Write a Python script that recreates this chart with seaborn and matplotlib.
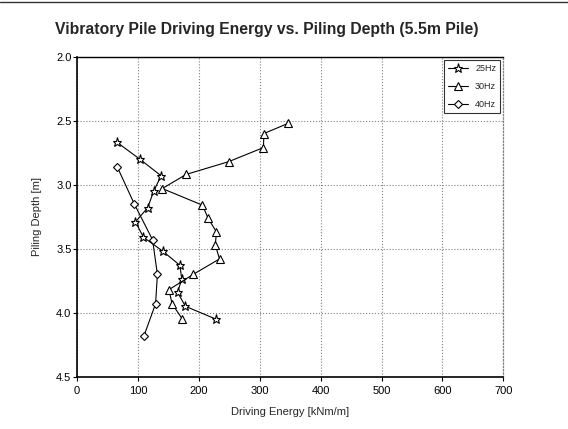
import pandas as pd
import seaborn as sns
import matplotlib.pyplot as plt
from matplotlib.lines import Line2D

# 25Hz
energy_25 = [66, 103, 138, 126, 116, 96, 109, 141, 169, 172, 165, 178, 228]
depth_25 = [2.67, 2.80, 2.93, 3.05, 3.18, 3.29, 3.41, 3.52, 3.63, 3.74, 3.84, 3.95, 4.05]
# 30Hz
energy_30 = [347, 307, 306, 249, 179, 140, 206, 215, 229, 227, 234, 191, 151, 156, 173]
depth_30 = [2.52, 2.60, 2.71, 2.82, 2.92, 3.03, 3.16, 3.26, 3.37, 3.47, 3.58, 3.70, 3.82, 3.93, 4.05]
# 40Hz
energy_40 = [66, 94, 124, 132, 129, 110]
depth_40 = [2.86, 3.15, 3.43, 3.70, 3.93, 4.18]

series = ["25Hz", "30Hz", "40Hz"]
markers = {"25Hz": "*", "30Hz": "^", "40Hz": "D"}
msizes = {"25Hz": 6.5, "30Hz": 5.5, "40Hz": 4.2}

df = pd.concat([
    pd.DataFrame({"Energy": energy_25, "Depth": depth_25, "Freq": "25Hz"}),
    pd.DataFrame({"Energy": energy_30, "Depth": depth_30, "Freq": "30Hz"}),
    pd.DataFrame({"Energy": energy_40, "Depth": depth_40, "Freq": "40Hz"}),
])

sns.set_style("white")
plt.rcParams["font.family"] = ["Liberation Sans", "DejaVu Sans"]

fig = plt.figure(figsize=(5.68, 4.29), dpi=100)
ax = fig.add_axes([0.1356, 0.1219, 0.7505, 0.7459])

for f in series:
    sub = df[df["Freq"] == f]
    sns.lineplot(data=sub, x="Energy", y="Depth", sort=False, estimator=None,
                 color="black", lw=0.8, marker=markers[f], markersize=msizes[f],
                 markerfacecolor="white", markeredgecolor="black",
                 markeredgewidth=0.8, ax=ax, label=f)

ax.set_xlim(0, 700)
ax.set_ylim(4.5, 2.0)
ax.set_xticks(range(0, 701, 100))
ax.set_yticks([2.0, 2.5, 3.0, 3.5, 4.0, 4.5])
ax.set_yticklabels([f"{v:.1f}" for v in [2.0, 2.5, 3.0, 3.5, 4.0, 4.5]])
ax.grid(True, color="gray", linestyle=":", lw=0.8)
ax.tick_params(axis="both", labelsize=8, length=3, width=0.8, direction="out",
               left=True, bottom=True, colors="black")
ax.tick_params(axis="y", pad=1)
for s in ["left", "bottom"]:
    ax.spines[s].set_color("black")
    ax.spines[s].set_linewidth(1.2)
ax.spines["top"].set_color("black")
ax.spines["top"].set_linewidth(1.0)
ax.spines["right"].set_color("gray")
ax.spines["right"].set_linestyle(":")
ax.spines["right"].set_linewidth(0.9)

ax.set_xlabel("Driving Energy [kNm/m]", fontsize=8, labelpad=8)
ax.set_ylabel("Piling Depth [m]", fontsize=8, labelpad=10)

handles = [Line2D([], [], color="black", lw=0.8, marker=markers[f],
                  markersize=msizes[f], markerfacecolor="white",
                  markeredgecolor="black", markeredgewidth=0.8) for f in series]
leg = ax.legend(handles, series, loc="upper right", fontsize=6.5,
                frameon=True, fancybox=False, edgecolor="black",
                handlelength=2.2, borderaxespad=0.4, labelspacing=1.0)
leg.get_frame().set_linewidth(0.8)

fig.text(0.469, 0.932, "Vibratory Pile Driving Energy vs. Piling Depth (5.5m Pile)",
         ha="center", va="center", fontsize=11.3, fontweight="bold")
fig.add_artist(Line2D([0, 1], [0.995, 0.995], color="#333333", lw=1.0,
                      transform=fig.transFigure))

fig.savefig("out.png", dpi=100)
